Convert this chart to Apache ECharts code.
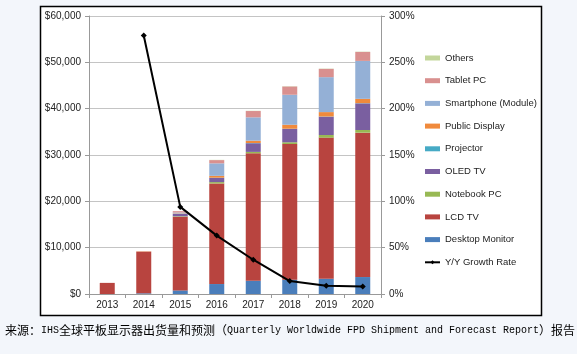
<!DOCTYPE html>
<html>
<head>
<meta charset="utf-8">
<script src="https://cdn.jsdelivr.net/npm/echarts@6/dist/echarts.min.js"></script>
<style>
html,body{margin:0;padding:0;background:#f3f6fb;}
#chart{width:577px;height:354px;}
</style>
</head>
<body>
<div id="chart"></div>
<script>
var years = ['2013','2014','2015','2016','2017','2018','2019','2020'];
var desktopMonitor = [0, 150, 780, 2150, 2870, 3080, 3300, 3660];
var lcdTV = [2400, 9000, 15900, 21700, 27500, 29300, 30450, 31160];
var notebookPC = [0, 0, 100, 300, 300, 370, 570, 570];
var oledTV = [0, 0, 500, 900, 1870, 2870, 3940, 5750];
var projector = [0, 0, 0, 50, 50, 50, 50, 50];
var publicDisplay = [0, 50, 100, 400, 500, 860, 950, 930];
var smartphone = [0, 0, 200, 2700, 5040, 6470, 7540, 8190];
var tabletPC = [0, 0, 300, 700, 1360, 1790, 1790, 1940];
var others = [0, 0, 0, 50, 50, 50, 50, 50];
var growthRate = [null, 279, 94, 63, 37, 14, 9, 8];
var leftTicks = {min: 0, max: 60000, interval: 10000};
var rightTicks = {min: 0, max: 300, interval: 50};

var font = 'Liberation Sans, Arial, sans-serif';
var barDefs = [
  ['Desktop Monitor', desktopMonitor, '#4a7ebb'],
  ['LCD TV', lcdTV, '#b8443f'],
  ['Notebook PC', notebookPC, '#98b954'],
  ['OLED TV', oledTV, '#7a5fa0'],
  ['Projector', projector, '#46aac5'],
  ['Public Display', publicDisplay, '#f08a3c'],
  ['Smartphone (Module)', smartphone, '#94b0d6'],
  ['Tablet PC', tabletPC, '#d9908f'],
  ['Others', others, '#c3d69b']
];
var series = barDefs.map(function(d){
  return {name: d[0], type: 'bar', stack: 'total', data: d[1], barWidth: 15,
    itemStyle: {color: d[2]}};
});
series.push({name: 'Y/Y Growth Rate', type: 'line', yAxisIndex: 1, data: growthRate,
  symbol: 'diamond', symbolSize: 6, lineStyle: {color: '#000', width: 2},
  itemStyle: {color: '#000'}, z: 5});

var legendData = barDefs.slice().reverse().map(function(d){ return {name: d[0], icon: 'rect'}; });
legendData.push({name: 'Y/Y Growth Rate'});

var chart = echarts.init(document.getElementById('chart'), null, {renderer: 'canvas'});
chart.setOption({
  backgroundColor: '#f3f6fb',
  animation: false,
  grid: {left: 89, right: 196, top: 16, bottom: 60},
  graphic: [
    {type: 'rect', z: -10, shape: {x: 40.5, y: 6.5, width: 501, height: 309},
     style: {fill: '#fff', stroke: '#000', lineWidth: 1.5}},
    {type: 'text', left: 5, top: 324, z: 10,
     style: {
       text: '{c|来源：}{l|IHS}{c|全球平板显示器出货量和预测（}{l|Quarterly Worldwide FPD Shipment and Forecast Report}{c|）报告}',
       rich: {
         c: {fontFamily: 'Noto Sans CJK SC', fontSize: 12, fill: '#000', lineHeight: 16},
         l: {fontFamily: 'Liberation Mono', fontSize: 10, fill: '#000', lineHeight: 16}
       }
     }}
  ],
  legend: {
    orient: 'vertical', left: 424, top: 52, padding: 0, itemWidth: 15, itemHeight: 5,
    itemGap: 10.7, data: legendData,
    textStyle: {fontFamily: font, fontSize: 9.5, color: '#222', lineHeight: 12}
  },
  xAxis: {
    type: 'category', data: years, boundaryGap: true,
    axisLine: {lineStyle: {color: '#999'}},
    axisTick: {show: true, length: 4, interval: 0, lineStyle: {color: '#999'}},
    axisLabel: {fontFamily: font, fontSize: 10, color: '#222', margin: 6}
  },
  yAxis: [
    {type: 'value', min: leftTicks.min, max: leftTicks.max, interval: leftTicks.interval,
     axisLine: {show: true, lineStyle: {color: '#999'}},
     axisTick: {show: true, length: 4, lineStyle: {color: '#999'}},
     splitLine: {lineStyle: {color: '#c4c4c4'}},
     axisLabel: {fontFamily: font, fontSize: 10, color: '#222', margin: 8,
       formatter: function(v){ return '$' + v.toLocaleString('en-US'); }}},
    {type: 'value', position: 'right', min: rightTicks.min, max: rightTicks.max, interval: rightTicks.interval,
     axisLine: {show: true, lineStyle: {color: '#999'}},
     axisTick: {show: true, length: 4, lineStyle: {color: '#999'}},
     splitLine: {show: false},
     axisLabel: {fontFamily: font, fontSize: 10, color: '#222', margin: 8,
       formatter: '{value}%'}}
  ],
  series: series
});
</script>
</body>
</html>
